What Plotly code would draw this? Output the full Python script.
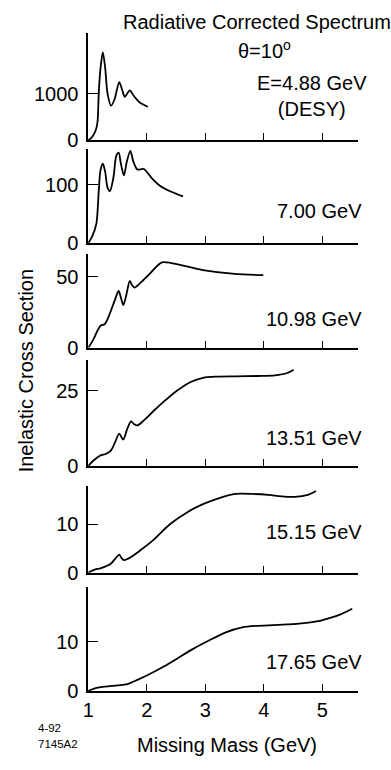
import plotly.graph_objects as go

W, H = 391, 770
FONT = "Arial, Liberation Sans, sans-serif"

# ---- data ----
m1 = [1.0, 1.05, 1.10, 1.14, 1.16, 1.18, 1.21, 1.25, 1.29, 1.33, 1.39, 1.45, 1.53, 1.58, 1.625, 1.67, 1.71, 1.78, 1.88, 2.02]
s1 = [0, 40, 130, 260, 400, 1000, 1550, 1890, 1550, 1000, 740, 880, 1250, 1080, 930, 1010, 1070, 950, 810, 717]

m2 = [1.0, 1.07, 1.14, 1.18, 1.21, 1.25, 1.29, 1.33, 1.37, 1.43, 1.48, 1.52, 1.56, 1.61, 1.66, 1.72, 1.77, 1.84, 1.95, 2.08, 2.23, 2.42, 2.62]
s2 = [0, 12, 34, 90, 125, 136, 122, 95, 89, 112, 150, 155, 135, 116, 140, 158, 140, 126, 127, 112, 98, 88, 80]

m3 = [1.0, 1.05, 1.11, 1.17, 1.22, 1.28, 1.35, 1.45, 1.52, 1.56, 1.60, 1.65, 1.71, 1.75, 1.79, 1.9, 2.05, 2.26, 2.6, 2.96, 3.5, 3.99]
s3 = [0, 3, 7.6, 13, 15.8, 16.5, 22, 33, 40, 35, 30, 37, 47, 44, 42.4, 46, 52, 60.2, 58, 54.7, 52, 51.2]

m4 = [1.0, 1.1, 1.22, 1.3, 1.39, 1.45, 1.53, 1.57, 1.60, 1.66, 1.73, 1.78, 1.84, 1.95, 2.12, 2.3, 2.51, 2.75, 2.96, 3.2, 3.52, 3.9, 4.19, 4.4, 4.51]
s4 = [0, 2, 3.6, 4.0, 5.2, 7.5, 10.8, 9.5, 8.8, 12, 14.9, 14, 13.5, 15.2, 18.4, 21.6, 25, 28, 29.4, 29.8, 29.9, 30, 30.2, 31, 32.1]

m5 = [1.0, 1.1, 1.22, 1.39, 1.47, 1.53, 1.57, 1.61, 1.7, 1.89, 2.1, 2.4, 2.7, 2.96, 3.2, 3.52, 3.8, 4.08, 4.3, 4.53, 4.75, 4.89]
s5 = [0, 0.6, 0.95, 1.9, 3.0, 3.7, 3.0, 2.6, 3.0, 4.6, 6.6, 10, 12.5, 14.1, 15.2, 16.2, 16.2, 16.0, 15.7, 15.6, 16.0, 16.8]

m6 = [1.0, 1.1, 1.28, 1.5, 1.67, 1.85, 2.06, 2.3, 2.51, 2.8, 3.07, 3.35, 3.63, 3.85, 4.08, 4.4, 4.64, 4.9, 5.09, 5.3, 5.51]
s6 = [0, 0.5, 0.87, 1.15, 1.4, 2.3, 3.5, 5.0, 6.5, 8.6, 10.3, 11.9, 12.9, 13.2, 13.3, 13.5, 13.7, 14.1, 14.7, 15.5, 16.7]

energies = ["E=4.88 GeV<br>(DESY)", "7.00 GeV", "10.98 GeV", "13.51 GeV", "15.15 GeV", "17.65 GeV"]
y_tick_vals = [1000, 100, 50, 25, 10, 10]
y_max = [2320, 162, 66.3, 35.4, 17.9, 21.2]
x_ticks = [1, 2, 3, 4, 5]

masses = [m1, m2, m3, m4, m5, m6]
spectra = [s1, s2, s3, s4, s5, s6]

# ---- layout geometry (pixels) ----
panel_px = [(33, 142), (150.7, 246.7), (257.3, 352.7), (365, 472.7), (492.7, 581), (595, 701)]
label_py = [97, 214, 324, 444, 540, 672]
x_left_px, x_right_px = 83.5, 357

def py(p):
    return 1 - p / H

fig = go.Figure()
layout = dict(
    width=W, height=H, margin=dict(l=0, r=0, t=0, b=0),
    paper_bgcolor="white", plot_bgcolor="white", showlegend=False,
    font=dict(family=FONT, size=20, color="black"),
)
annotations = []
for i in range(6):
    n = "" if i == 0 else str(i + 1)
    xa, ya = "x" + n, "y" + n
    fig.add_trace(go.Scatter(x=masses[i], y=spectra[i], mode="lines",
                             line=dict(color="black", width=1.8, shape="spline", smoothing=0.8),
                             xaxis=xa, yaxis=ya, hoverinfo="skip"))
    top, bot = panel_px[i]
    layout["xaxis" + n] = dict(
        domain=[x_left_px / W, x_right_px / W], range=[1, 5.6], anchor=ya,
        showline=True, linecolor="black", linewidth=1.6, showgrid=False, zeroline=False,
        tickmode="array", tickvals=x_ticks, ticktext=[str(v) for v in x_ticks],
        ticks="inside", ticklen=7, tickwidth=1.2, tickcolor="black",
        showticklabels=(i == 5), tickfont=dict(size=20, family=FONT, color="black"),
    )
    layout["yaxis" + n] = dict(
        domain=[py(bot), py(top)], range=[0, y_max[i]], anchor=xa,
        showline=True, linecolor="black", linewidth=1.6, showgrid=False, zeroline=False,
        tickmode="array", tickvals=[0, y_tick_vals[i]], ticktext=["0", str(y_tick_vals[i])],
        ticks="inside", ticklen=10, tickwidth=1.2, tickcolor="black",
        ticklabelstandoff=4, tickfont=dict(size=20, family=FONT, color="black"),
    )
    annotations.append(dict(text=energies[i], xref="paper", yref="paper",
                            x=(364 if i else 311) / W, y=py(label_py[i]),
                            xanchor="right" if i else "center", yanchor="middle",
                            showarrow=False, align="center",
                            font=dict(size=20, family=FONT, color="black")))

annotations += [
    dict(text="Radiative Corrected Spectrum", xref="paper", yref="paper", x=255 / W, y=py(22),
         xanchor="center", yanchor="middle", showarrow=False, font=dict(size=20, family=FONT)),
    dict(text="θ=10<sup>o</sup>", xref="paper", yref="paper", x=263 / W, y=py(50),
         xanchor="center", yanchor="middle", showarrow=False, font=dict(size=20, family=FONT)),
    dict(text="Inelastic Cross Section", xref="paper", yref="paper", x=20 / W, y=py(376),
         xanchor="center", yanchor="middle", textangle=-90, showarrow=False, font=dict(size=20, family=FONT)),
    dict(text="Missing Mass (GeV)", xref="paper", yref="paper", x=224 / W, y=py(756),
         xanchor="center", yanchor="middle", showarrow=False, font=dict(size=20, family=FONT)),
    dict(text="4-92", xref="paper", yref="paper", x=30 / W, y=py(739),
         xanchor="left", yanchor="middle", showarrow=False, font=dict(size=11.5, family=FONT)),
    dict(text="7145A2", xref="paper", yref="paper", x=30 / W, y=py(755),
         xanchor="left", yanchor="middle", showarrow=False, font=dict(size=11.5, family=FONT)),
]
layout["annotations"] = annotations
fig.update_layout(**layout)
fig.write_html("out.html")
